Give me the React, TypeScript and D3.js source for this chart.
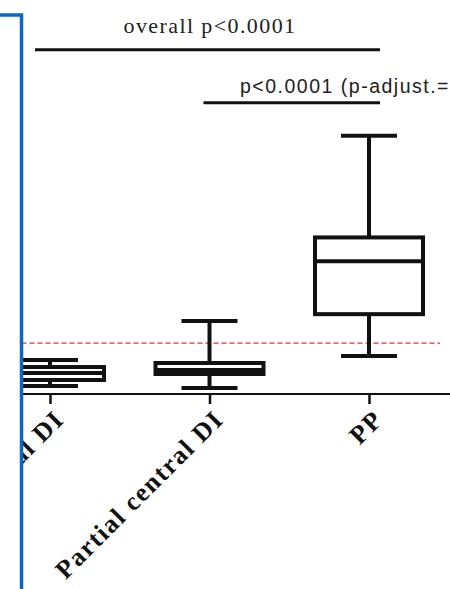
import React, { useEffect, useRef } from "react";
import * as d3 from "d3";

// box plot summaries (copeptin-like units)
const categories = ["Complete central DI", "Partial central DI", "PP"];
const whiskerMax = [3.28, 7.04, 24.9];
const q3 = [2.6, 2.99, 15.1];
const medians = [2.03, 2.31, 12.8];
const q1 = [1.35, 1.93, 7.7];
const whiskerMin = [0.77, 0.58, 3.66];
const cutoff = 4.9;

const overallLabel = "overall p<0.0001";
const pairLabel = "p<0.0001 (p-adjust.=0.0003)";

const App = () => {
  const svgRef = useRef<SVGSVGElement>(null);

  useEffect(() => {
    const width = 450;
    const height = 589;
    const frameX = 21.5;
    const baseline = 394;

    const svg = d3.select(svgRef.current);
    svg.selectAll("*").remove();
    svg.attr("width", width).attr("height", height);

    svg
      .append("defs")
      .append("clipPath")
      .attr("id", "plotclip")
      .append("rect")
      .attr("x", frameX)
      .attr("y", 0)
      .attr("width", width - frameX)
      .attr("height", height);

    const x = d3.scalePoint<string>().domain(categories).range([50, 369]);
    const y = d3.scaleLinear().domain([0, 38]).range([baseline, 0]);

    const boxHalf = 54;
    const capHalf = 28;

    const g = svg.append("g").attr("clip-path", "url(#plotclip)");

    // cutoff line
    g.append("line")
      .attr("x1", frameX)
      .attr("x2", 440)
      .attr("y1", y(cutoff))
      .attr("y2", y(cutoff))
      .attr("stroke", "#e0303a")
      .attr("stroke-width", 1.2)
      .attr("stroke-dasharray", "5,3");

    // axis
    const axis = g
      .append("g")
      .attr("transform", `translate(0,${baseline})`)
      .call(d3.axisBottom(x).tickSize(10).tickSizeOuter(0));
    axis.select(".domain").remove();
    axis
      .append("line")
      .attr("x1", 0)
      .attr("x2", width)
      .attr("stroke", "#111")
      .attr("stroke-width", 2);
    axis.selectAll(".tick line").attr("stroke", "#111").attr("stroke-width", 2.5);
    axis
      .selectAll<SVGTextElement, string>(".tick text")
      .attr("fill", "#111")
      .attr("font-family", "'Liberation Serif', 'Times New Roman', serif")
      .attr("font-weight", "bold")
      .attr("font-size", 26)
      .attr("letter-spacing", 1.6)
      .attr("text-anchor", "end")
      .attr("dy", 0)
      .attr("y", 0)
      .attr("transform", "translate(15,27) rotate(-45)");

    // boxes
    const boxes = g
      .append("g")
      .selectAll("g")
      .data(categories)
      .join("g")
      .attr("stroke", "#111")
      .attr("stroke-width", 4)
      .attr("fill", "none");

    boxes
      .append("line")
      .attr("x1", (d) => x(d)!)
      .attr("x2", (d) => x(d)!)
      .attr("y1", (d, i) => y(whiskerMax[i]))
      .attr("y2", (d, i) => y(whiskerMin[i]));
    boxes
      .append("rect")
      .attr("x", (d) => x(d)! - boxHalf)
      .attr("width", boxHalf * 2)
      .attr("y", (d, i) => y(q3[i]))
      .attr("height", (d, i) => y(q1[i]) - y(q3[i]))
      .attr("fill", "#fff");
    boxes
      .append("line")
      .attr("x1", (d) => x(d)! - boxHalf)
      .attr("x2", (d) => x(d)! + boxHalf)
      .attr("y1", (d, i) => y(medians[i]))
      .attr("y2", (d, i) => y(medians[i]));
    boxes
      .append("line")
      .attr("x1", (d) => x(d)! - capHalf)
      .attr("x2", (d) => x(d)! + capHalf)
      .attr("y1", (d, i) => y(whiskerMax[i]))
      .attr("y2", (d, i) => y(whiskerMax[i]));
    boxes
      .append("line")
      .attr("x1", (d) => x(d)! - capHalf)
      .attr("x2", (d) => x(d)! + capHalf)
      .attr("y1", (d, i) => y(whiskerMin[i]))
      .attr("y2", (d, i) => y(whiskerMin[i]));

    // significance bars
    g.append("line")
      .attr("x1", x(categories[0])! - 15)
      .attr("x2", x(categories[2])! + 11)
      .attr("y1", y(33.2))
      .attr("y2", y(33.2))
      .attr("stroke", "#111")
      .attr("stroke-width", 3);
    g.append("text")
      .attr("x", 210)
      .attr("y", y(34.8))
      .attr("text-anchor", "middle")
      .attr("font-family", "'Liberation Serif', 'Times New Roman', serif")
      .attr("font-size", 22)
      .attr("letter-spacing", 1.4)
      .attr("fill", "#222")
      .text(overallLabel);

    g.append("line")
      .attr("x1", x(categories[1])! - 6)
      .attr("x2", x(categories[2])! + 11)
      .attr("y1", y(28.1))
      .attr("y2", y(28.1))
      .attr("stroke", "#111")
      .attr("stroke-width", 3);
    g.append("text")
      .attr("x", 240)
      .attr("y", y(29.0))
      .attr("font-family", "'Liberation Sans', Arial, sans-serif")
      .attr("font-size", 19.5)
      .attr("letter-spacing", 1.5)
      .attr("fill", "#222")
      .text(pairLabel);

    // blue frame
    svg
      .append("path")
      .attr("d", `M0,15 H${frameX} V${height}`)
      .attr("fill", "none")
      .attr("stroke", "#0a66c8")
      .attr("stroke-width", 3.5);
  }, []);

  return (
    <div style={{ position: "absolute", left: 0, top: 0, background: "#fff" }}>
      <svg ref={svgRef} style={{ display: "block" }}></svg>
    </div>
  );
};

export default App;
